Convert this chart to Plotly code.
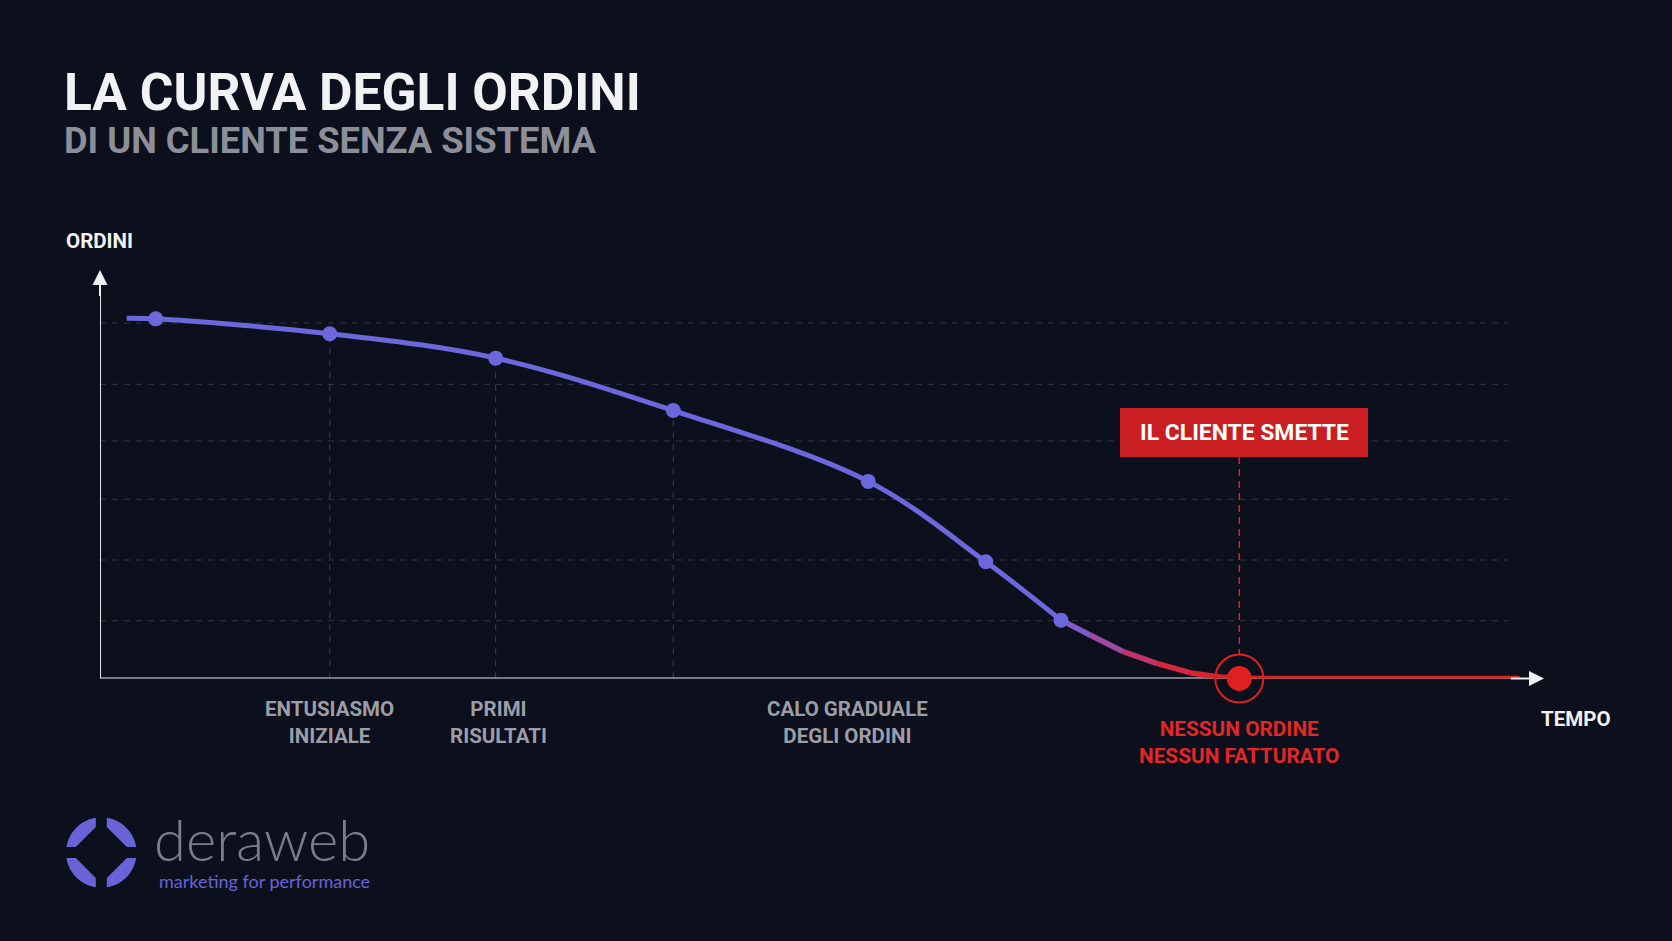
import math
import plotly.graph_objects as go

W, H = 1672, 941

# ---------------- data ----------------
curve_start_time = 1.85
curve_start_orders = 6.05
point_time = [3.86, 15.91, 27.4, 39.7, 53.2, 61.34, 66.55]
point_orders = [6.04, 5.79, 5.38, 4.50, 3.31, 1.96, 0.98]
tail_time = [66.55, 68.56, 70.87, 73.18, 75.48, 77.33, 78.9]
tail_orders = [0.98, 0.73, 0.45, 0.255, 0.097, 0.03, 0.0]
tail_colors = ["#7f5ac8", "#9f4aa0", "#c23468", "#d82640", "#df2230", "#e02020"]
stop_time = 78.9
stop_orders = 0.0
end_time = 98.3
grid_levels = [0.97, 1.99, 3.01, 3.99, 4.94, 5.97]
grid_end = 97.5
guide_times = [15.91, 27.4, 39.7]
guide_orders = [5.79, 5.38, 4.50]
phase_labels = ["ENTUSIASMO<br>INIZIALE", "PRIMI<br>RISULTATI", "CALO GRADUALE<br>DEGLI ORDINI"]
phase_label_times = [15.91, 27.6, 51.8]

BLUE = "#6c67dc"
RED = "#e02020"
BG = "#0c101d"
GRID = "rgba(255,255,255,0.16)"


def X(px):
    return px / W


def Y(py):
    return 1 - py / H


fig = go.Figure()

# main blue curve
fig.add_trace(go.Scatter(
    x=[curve_start_time] + point_time, y=[curve_start_orders] + point_orders,
    mode="lines", line=dict(color=BLUE, width=5, shape="spline", smoothing=1.0),
    hoverinfo="skip", cliponaxis=False))

# gradient tail
for i in range(len(tail_time) - 1):
    fig.add_trace(go.Scatter(
        x=tail_time[i:i + 2], y=tail_orders[i:i + 2], mode="lines",
        line=dict(color=tail_colors[i], width=5.5), hoverinfo="skip", cliponaxis=False))

# flat red line after stop
fig.add_trace(go.Scatter(x=[stop_time, end_time], y=[stop_orders, stop_orders], mode="lines",
                         line=dict(color=RED, width=5.5), hoverinfo="skip", cliponaxis=False))

# blue markers
fig.add_trace(go.Scatter(x=point_time, y=point_orders, mode="markers",
                         marker=dict(color=BLUE, size=15), hoverinfo="skip", cliponaxis=False))

# stop point: ring + dot
fig.add_trace(go.Scatter(x=[stop_time], y=[stop_orders], mode="markers",
                         marker=dict(symbol="circle-open", size=48, color=RED, line=dict(width=2, color=RED)),
                         hoverinfo="skip", cliponaxis=False))
fig.add_trace(go.Scatter(x=[stop_time], y=[stop_orders], mode="markers",
                         marker=dict(color=RED, size=25), hoverinfo="skip", cliponaxis=False))

shapes = []
# grid lines
for g in grid_levels:
    shapes.append(dict(type="line", xref="x", yref="y", x0=0, x1=grid_end, y0=g, y1=g,
                       line=dict(color=GRID, width=1, dash="6px,6px"), layer="below"))
# vertical guides
for t, o in zip(guide_times, guide_orders):
    shapes.append(dict(type="line", xref="x", yref="y", x0=t, x1=t, y0=0, y1=o,
                       line=dict(color="rgba(255,255,255,0.2)", width=1, dash="6px,6px"), layer="below"))
# axes
shapes.append(dict(type="line", xref="x", yref="y", x0=0, x1=end_time, y0=0, y1=0,
                   line=dict(color="#e6e6ea", width=2), layer="below"))
shapes.append(dict(type="line", xref="x", yref="y", x0=0, x1=0, y0=0, y1=6.5,
                   line=dict(color="#e6e6ea", width=2), layer="below"))
# red callout box + dashed connector
shapes.append(dict(type="rect", xref="paper", yref="paper", x0=X(1120), x1=X(1368), y0=Y(457), y1=Y(408),
                   fillcolor="#c91f22", line=dict(width=0), layer="above"))
shapes.append(dict(type="line", xref="x", yref="paper", x0=stop_time, x1=stop_time, y0=Y(457), y1=Y(654),
                   line=dict(color=RED, width=1.5, dash="7px,5px"), layer="below"))


# logo pieces
def logo_piece(cx, cy, r, g, d, phi_deg):
    phi = math.radians(phi_deg)
    h = math.radians(45) - math.asin(g / r)
    a0, a1 = phi - h, phi + h
    k = 4 / 3 * math.tan((a1 - a0) / 4)
    A = (r * math.cos(a0), r * math.sin(a0))
    B = (r * math.cos(a1), r * math.sin(a1))
    c1 = (A[0] - k * r * math.sin(a0), A[1] + k * r * math.cos(a0))
    c2 = (B[0] + k * r * math.sin(a1), B[1] - k * r * math.cos(a1))
    sx = 1 if math.cos(phi) > 0 else -1
    sy = 1 if math.sin(phi) > 0 else -1
    v_on_x = (sx * g, sy * (d - g))
    v_on_y = (sx * (d - g), sy * g)
    if abs(B[0]) < abs(B[1]):
        inner = [v_on_x, v_on_y]
    else:
        inner = [v_on_y, v_on_x]

    def P(p):
        return f"{X(cx + p[0]):.5f},{Y(cy - p[1]):.5f}"

    return (f"M {P(A)} C {P(c1)} {P(c2)} {P(B)} L {P(inner[0])} L {P(inner[1])} Z")


for phi in [45, 135, 225, 315]:
    shapes.append(dict(type="path", xref="paper", yref="paper",
                       path=logo_piece(101.3, 852.5, 35.3, 5.5, 31, phi),
                       fillcolor="#6a63d8", line=dict(width=0)))

annotations = []
# axis arrowheads
annotations.append(dict(x=100, y=0, ax=97.6, ay=0, xref="x", yref="y", axref="x", ayref="y",
                        text="", showarrow=True, arrowhead=2, arrowsize=1.5, arrowwidth=2,
                        arrowcolor="#f0f0f2", standoff=0))
annotations.append(dict(x=0, y=6.86, ax=0, ay=6.4, xref="x", yref="y", axref="x", ayref="y",
                        text="", showarrow=True, arrowhead=2, arrowsize=1.5, arrowwidth=2,
                        arrowcolor="#f0f0f2", standoff=0))

FONT = "Roboto, Inter, Arial"
# titles
annotations.append(dict(x=X(62), y=Y(92), xref="paper", yref="paper", xanchor="left", yanchor="middle",
                        text="<b>LA CURVA DEGLI ORDINI</b>", showarrow=False,
                        font=dict(family=FONT, size=51.5, color="#f2f2f4")))
annotations.append(dict(x=X(62), y=Y(140.5), xref="paper", yref="paper", xanchor="left", yanchor="middle",
                        text="<b>DI UN CLIENTE SENZA SISTEMA</b>", showarrow=False,
                        font=dict(family=FONT, size=36.3, color="#8d8f98")))
# axis titles
annotations.append(dict(x=X(64), y=Y(241), xref="paper", yref="paper", xanchor="left", yanchor="middle",
                        text="<b>ORDINI</b>", showarrow=False,
                        font=dict(family=FONT, size=20.5, color="#f2f2f4")))
annotations.append(dict(x=X(1539), y=Y(719), xref="paper", yref="paper", xanchor="left", yanchor="middle",
                        text="<b>TEMPO</b>", showarrow=False,
                        font=dict(family=FONT, size=20.5, color="#f2f2f4")))
# phase labels
for lab, t in zip(phase_labels, phase_label_times):
    annotations.append(dict(x=t, y=Y(722), xref="x", yref="paper", xanchor="center", yanchor="middle",
                            text=f"<b>{lab}</b>", showarrow=False, align="center",
                            font=dict(family=FONT, size=20.5, color="#9c9ea7")))
# stop label
annotations.append(dict(x=stop_time, y=Y(742.5), xref="x", yref="paper", xanchor="center", yanchor="middle",
                        text="<b>NESSUN ORDINE<br>NESSUN FATTURATO</b>", showarrow=False, align="center",
                        font=dict(family=FONT, size=20.8, color="#e32626")))
# callout text
annotations.append(dict(x=X(1244), y=Y(432.5), xref="paper", yref="paper", xanchor="center", yanchor="middle",
                        text="<b>IL CLIENTE SMETTE</b>", showarrow=False,
                        font=dict(family=FONT, size=22.9, color="#ffffff")))
# logo text
annotations.append(dict(x=X(152), y=Y(838), xref="paper", yref="paper", xanchor="left", yanchor="middle",
                        text="deraweb", showarrow=False, height=56, valign="middle",
                        font=dict(family="Lato, Open Sans, sans-serif", size=58, color="#7c7e87", weight=300)))
annotations.append(dict(x=X(157), y=Y(881), xref="paper", yref="paper", xanchor="left", yanchor="middle",
                        text="marketing for performance", showarrow=False,
                        font=dict(family="Lato, Open Sans, sans-serif", size=18, color="#6a62d6")))

fig.update_layout(
    width=W, height=H,
    margin=dict(l=0, r=0, t=0, b=0, autoexpand=False),
    paper_bgcolor=BG, plot_bgcolor=BG,
    showlegend=False,
    xaxis=dict(domain=[X(100), X(1544)], range=[0, 100], visible=False, fixedrange=True),
    yaxis=dict(domain=[Y(678.5), Y(270)], range=[0, 6.86], visible=False, fixedrange=True),
    shapes=shapes, annotations=annotations,
    hovermode=False,
)

fig.write_html("out.html", config={"displayModeBar": False},
               post_script="document.body.style.margin='0';document.body.style.overflow='hidden';"
                           "document.body.style.background='" + BG + "';")
